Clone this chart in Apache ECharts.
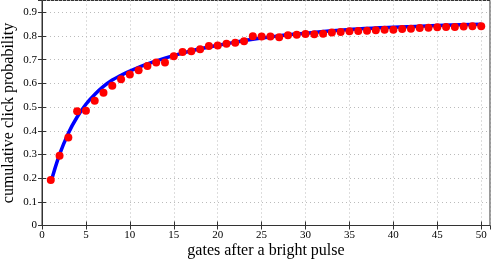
<!DOCTYPE html>
<html>
<head>
<meta charset="utf-8">
<script src="https://cdn.jsdelivr.net/npm/echarts@6/dist/echarts.min.js"></script>
<style>html,body{margin:0;padding:0;background:#fff}#c{width:491px;height:261px}</style>
</head>
<body>
<div id="c"></div>
<script>
// measured points: gate index and cumulative click probability
var gates = [1,2,3,4,5,6,7,8,9,10,11,12,13,14,15,16,17,18,19,20,21,22,23,24,25,26,27,28,29,30,31,32,33,34,35,36,37,38,39,40,41,42,43,44,45,46,47,48,49,50];
var probs = [0.192,0.295,0.372,0.482,0.484,0.527,0.560,0.590,0.617,0.638,0.656,0.673,0.688,0.688,0.715,0.733,0.736,0.744,0.758,0.760,0.767,0.772,0.778,0.799,0.798,0.798,0.795,0.803,0.805,0.809,0.808,0.810,0.815,0.817,0.820,0.821,0.822,0.824,0.826,0.827,0.830,0.831,0.834,0.835,0.837,0.838,0.838,0.840,0.841,0.841];
// fitted curve
var fitX = [1,2,3,4,5,6,7,8,9,10,12,14,16,18,20,22,24,26,28,30,33,36,40,45,50];
var fitY = [0.180,0.300,0.390,0.458,0.512,0.553,0.587,0.614,0.634,0.652,0.682,0.707,0.728,0.746,0.761,0.774,0.786,0.796,0.805,0.812,0.822,0.830,0.837,0.844,0.850];
var xTicks = [0,5,10,15,20,25,30,35,40,45,50];
var yTicks = [0,0.1,0.2,0.3,0.4,0.5,0.6,0.7,0.8,0.9];

var font = '"Liberation Serif", "Times New Roman", serif';
var chart = echarts.init(document.getElementById('c'));
var scatterData = gates.map(function(g,i){return [g, probs[i]];});
var fitData = fitX.map(function(x,i){return [x, fitY[i]];});
var axisLineStyle = {color:'#333', width:1};
chart.setOption({
  animation:false,
  textStyle:{fontFamily:font},
  grid:{left:42, right:1, top:0.5, bottom:35.5, show:true, borderColor:'#333', borderWidth:1,
        containLabel:false, outerBoundsMode:'none'},
  xAxis:[{
    type:'value', min:0, max:51, interval:5,
    name:'gates after a bright pulse', nameLocation:'middle', nameGap:17, nameMoveOverlap:false,
    nameTextStyle:{fontFamily:font, fontSize:16, color:'#000'},
    axisLine:{show:true, onZero:false, lineStyle:axisLineStyle},
    axisTick:{show:true, inside:true, length:4, lineStyle:{color:'#333'}},
    axisLabel:{fontFamily:font, fontSize:11, color:'#000', margin:4, showMaxLabel:false,
      formatter:function(v){return xTicks.indexOf(v)>=0 ? String(v) : '';}},
    splitLine:{show:true, lineStyle:{color:'#bbb', type:[1,3], width:1}}
  },{
    type:'value', position:'top', min:0, max:51, interval:5,
    axisLine:{show:false}, axisTick:{show:true, inside:true, length:4, lineStyle:{color:'#333'}},
    axisLabel:{show:false}, splitLine:{show:false}
  }],
  yAxis:[{
    type:'value', min:0, max:0.95, interval:0.1,
    name:'cumulative click probability', nameLocation:'middle', nameGap:25, nameRotate:90, nameMoveOverlap:false,
    nameTextStyle:{fontFamily:font, fontSize:16, color:'#000'},
    axisLine:{show:true, lineStyle:axisLineStyle},
    axisTick:{show:true, inside:true, length:4, lineStyle:{color:'#333'}},
    axisLabel:{fontFamily:font, fontSize:11, color:'#000', margin:5, showMaxLabel:false,
      formatter:function(v){
        var r = Math.round(v*10)/10;
        return (Math.abs(v-r)<1e-6 && yTicks.indexOf(r)>=0) ? (r===0?'0':r.toFixed(1)) : '';
      }},
    splitLine:{show:true, lineStyle:{color:'#bbb', type:[1,3], width:1}}
  },{
    type:'value', position:'right', min:0, max:0.95, interval:0.1,
    axisLine:{show:false}, axisTick:{show:true, inside:true, length:4, lineStyle:{color:'#333'}},
    axisLabel:{show:false}, splitLine:{show:false}
  }],
  series:[{
    type:'line', data:fitData, smooth:0.4, showSymbol:false, symbol:'none',
    lineStyle:{color:'#0000ff', width:3.5}, z:2
  },{
    type:'scatter', data:scatterData, symbolSize:8,
    itemStyle:{color:'#ff0000', opacity:1}, z:3
  }]
});
</script>
</body>
</html>
